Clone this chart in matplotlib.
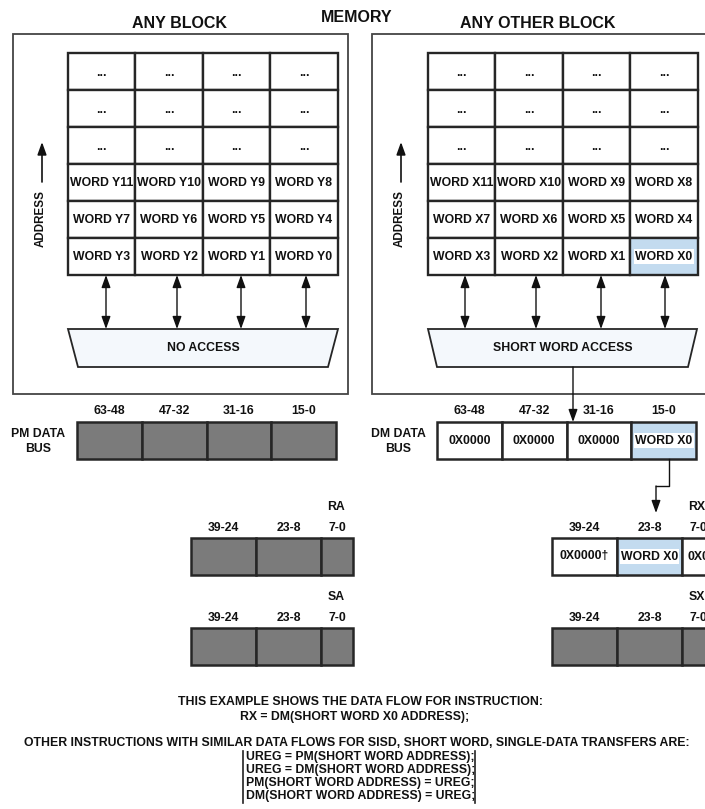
import matplotlib
matplotlib.use("Agg")
import matplotlib.pyplot as plt
from matplotlib.patches import Rectangle, Polygon, FancyArrowPatch

plt.rcParams['font.family'] = ['Liberation Sans', 'DejaVu Sans']

# ---------------- data ----------------
titles = ["ANY BLOCK", "MEMORY", "ANY OTHER BLOCK"]
left_words = [["...", "...", "...", "..."],
              ["...", "...", "...", "..."],
              ["...", "...", "...", "..."],
              ["WORD Y11", "WORD Y10", "WORD Y9", "WORD Y8"],
              ["WORD Y7", "WORD Y6", "WORD Y5", "WORD Y4"],
              ["WORD Y3", "WORD Y2", "WORD Y1", "WORD Y0"]]
right_words = [["...", "...", "...", "..."],
               ["...", "...", "...", "..."],
               ["...", "...", "...", "..."],
               ["WORD X11", "WORD X10", "WORD X9", "WORD X8"],
               ["WORD X7", "WORD X6", "WORD X5", "WORD X4"],
               ["WORD X3", "WORD X2", "WORD X1", "WORD X0"]]
access_labels = ["NO ACCESS", "SHORT WORD ACCESS"]
bus_bits = ["63-48", "47-32", "31-16", "15-0"]
dm_values = ["0X0000", "0X0000", "0X0000", "WORD X0"]
reg_bits = ["39-24", "23-8", "7-0"]
rx_values = ["0X0000\u2020", "WORD X0", "0X00"]
reg_names_left = ["RA", "SA"]
reg_names_right = ["RX", "SX"]
caption = ["THIS EXAMPLE SHOWS THE DATA FLOW FOR INSTRUCTION:",
           "RX = DM(SHORT WORD X0 ADDRESS);"]
other_title = "OTHER INSTRUCTIONS WITH SIMILAR DATA FLOWS FOR SISD, SHORT WORD, SINGLE-DATA TRANSFERS ARE:"
instructions = ["UREG = PM(SHORT WORD ADDRESS);",
                "UREG = DM(SHORT WORD ADDRESS);",
                "PM(SHORT WORD ADDRESS) = UREG;",
                "DM(SHORT WORD ADDRESS) = UREG;"]

# ---------------- style ----------------
W, H = 705, 809
LINE = '#262626'
GRAY = '#7b7b7b'
BLUE = '#c3dbef'
TRAP = '#f4f8fc'
FS = 8.8
BOLD = 'bold'

fig = plt.figure(figsize=(W / 100, H / 100), dpi=100)
ax = fig.add_axes([0, 0, 1, 1])
ax.set_xlim(0, W)
ax.set_ylim(H, 0)
ax.axis('off')


def txt(x, y, s, size=FS, ha='center', va='center', **kw):
    ax.text(x, y, s, fontsize=size, fontweight=BOLD, ha=ha, va=va, color='#111111', **kw)


def arrow(p0, p1, both=False, lw=1.0):
    style = '<|-|>,head_length=0.75,head_width=0.27' if both else '-|>,head_length=0.75,head_width=0.27'
    a = FancyArrowPatch(p0, p1, arrowstyle=style, mutation_scale=10, lw=lw,
                        color='#111111', shrinkA=0, shrinkB=0)
    ax.add_patch(a)


def rect(x, y, w, h, fc='white', lw=1.6, ec=LINE):
    ax.add_patch(Rectangle((x, y), w, h, facecolor=fc, edgecolor=ec, lw=lw))


# titles
txt(180, 23, titles[0], size=11.5)
txt(357, 17, titles[1], size=11.5)
txt(538, 23, titles[2], size=11.5)

# memory blocks
blocks = [
    dict(box=(13, 34, 335, 360), gx=68, words=left_words, arrows=[106, 177, 241, 306],
         trap=(68, 338, 78, 328), addr_x=42, label=access_labels[0], highlight=None),
    dict(box=(372, 34, 345, 360), gx=428, words=right_words, arrows=[465, 536, 601, 665],
         trap=(428, 697, 437, 688), addr_x=401, label=access_labels[1], highlight=(5, 3)),
]
CW, RH, GY = 67.4, 37.0, 53
for b in blocks:
    bx, by, bw, bh = b['box']
    rect(bx, by, bw, bh, lw=1.3, ec='#444444')
    for r, row in enumerate(b['words']):
        for c, word in enumerate(row):
            x = b['gx'] + c * CW
            y = GY + r * RH
            hl = b['highlight'] == (r, c)
            rect(x, y, CW, RH, fc=BLUE if hl else 'white', lw=1.7)
            if hl:
                txt(x + CW / 2, y + RH / 2, word,
                    bbox=dict(facecolor='white', edgecolor='none', pad=1.0))
            else:
                txt(x + CW / 2, y + RH / 2 + (1 if word == '...' else 0), word)
    gy_bottom = GY + 6 * RH
    for axx in b['arrows']:
        arrow((axx, gy_bottom), (axx, 329), both=True)
    t0, t1, b0, b1 = b['trap']
    ax.add_patch(Polygon([(t0, 329), (t1, 329), (b1, 367), (b0, 367)], closed=True,
                         facecolor=TRAP, edgecolor=LINE, lw=1.3))
    txt((t0 + t1) / 2, 348, b['label'])
    # address arrow
    arrow((b['addr_x'], 182), (b['addr_x'], 142), lw=1.2)
    txt(b['addr_x'] - 1, 218, "ADDRESS", size=8.4, rotation=90)

# connection from short-word access to DM bus
arrow((573, 367), (573, 422))

# data buses
BW, BY, BH = 64.75, 422, 37
for (x0, fills, name) in [(77, None, ("PM DATA", "BUS")), (437, dm_values, ("DM DATA", "BUS"))]:
    for i, bit in enumerate(bus_bits):
        x = x0 + i * BW
        if fills is None:
            rect(x, BY, BW, BH, fc=GRAY, lw=1.8)
        else:
            hl = fills[i].startswith("WORD")
            rect(x, BY, BW, BH, fc=BLUE if hl else 'white', lw=1.8)
            if hl:
                txt(x + BW / 2, BY + BH / 2, fills[i],
                    bbox=dict(facecolor='white', edgecolor='none', pad=1.0))
            else:
                txt(x + BW / 2, BY + BH / 2, fills[i])
        txt(x + BW / 2, 411, bit)
    txt(x0 - 39, 434, name[0])
    txt(x0 - 39, 449, name[1])

# elbow arrow from DM bus WORD X0 to RX
ax.plot([669, 669, 656], [459, 486, 486], color='#111111', lw=1.0)
arrow((656, 486), (656, 513))

# registers
RW = [65, 65, 32]
for (x0, names, vals) in [(191, reg_names_left, None), (552, reg_names_right, rx_values)]:
    for k, (ry, name) in enumerate(zip([538, 628], names)):
        x = x0
        for i, bit in enumerate(reg_bits):
            if k == 0 and vals is not None:
                hl = vals[i].startswith("WORD")
                rect(x, ry, RW[i], 37, fc=BLUE if hl else 'white', lw=1.8)
                if hl:
                    txt(x + RW[i] / 2, ry + 18.5, vals[i],
                        bbox=dict(facecolor='white', edgecolor='none', pad=1.0))
                else:
                    txt(x + RW[i] / 2 + (0 if i < 2 else 4), ry + 18.5, vals[i])
            else:
                rect(x, ry, RW[i], 37, fc=GRAY, lw=1.8)
            txt(x + RW[i] / 2, ry - 10, bit)
            x += RW[i]
        txt(x0 + RW[0] + RW[1] + RW[2] / 2 - 1, ry - 31, name)

# bottom caption
BFS = 8.8
txt(360, 702, caption[0], size=BFS)
txt(355, 717, caption[1], size=BFS)
txt(357, 743, other_title, size=BFS)
for i, line in enumerate(instructions):
    txt(246, 757 + i * 13, line, size=BFS, ha='left')
ax.plot([243, 243], [751, 803], color='#222222', lw=1.2)
ax.plot([475, 475], [751, 803], color='#222222', lw=1.2)

fig.savefig("out.png", dpi=100)
